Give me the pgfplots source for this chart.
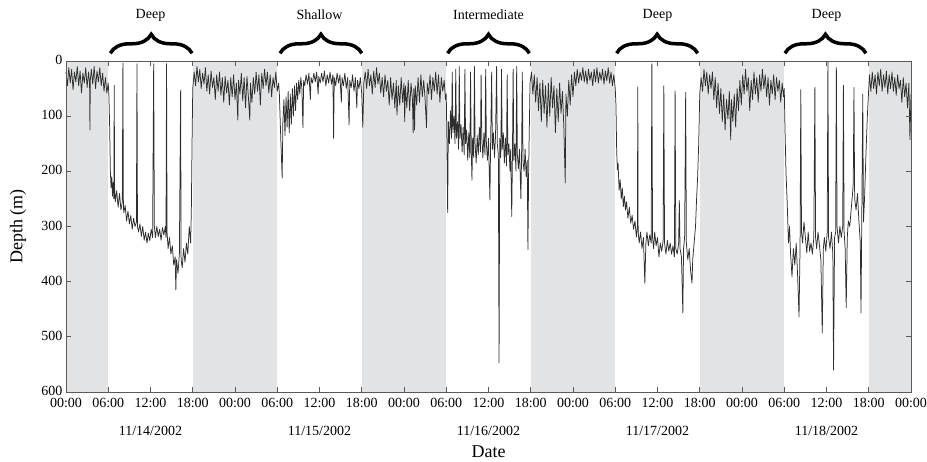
\documentclass[border=0pt]{standalone}
\usepackage{fontspec}
\setmainfont{Liberation Serif}
\usepackage{pgfplots}
\pgfplotsset{compat=1.18}
\usetikzlibrary{decorations.pathreplacing}
\definecolor{nightgray}{RGB}{226,227,229}
\definecolor{axgray}{RGB}{90,90,90}
\begin{document}
\begin{tikzpicture}
\useasboundingbox (-66pt,-70pt) rectangle (861pt,392pt);
\begin{axis}[
  scale only axis, width=845pt, height=331pt,
  xmin=0, xmax=120, ymin=0, ymax=600, y dir=reverse,
  clip=false, axis on top,
  xtick={0,6,...,120},
  xticklabels={00:00,06:00,{12:00\\[11pt]11/14/2002},18:00,
               00:00,06:00,{12:00\\[11pt]11/15/2002},18:00,
               00:00,06:00,{12:00\\[11pt]11/16/2002},18:00,
               00:00,06:00,{12:00\\[11pt]11/17/2002},18:00,
               00:00,06:00,{12:00\\[11pt]11/18/2002},18:00,00:00},
  ytick={0,100,...,600},
  /pgf/number format/assume math mode=true,
  ticklabel style={font=\fontsize{14}{17}\selectfont},
  xticklabel style={align=center, yshift=-3pt},
  yticklabel style={yshift=1pt},
  major tick length=5pt,
  axis line style={axgray, line width=0.8pt},
  tick style={axgray, line width=0.7pt},
  xlabel={Date}, ylabel={Depth (m)},
  label style={font=\fontsize{18}{21}\selectfont},
  xlabel style={at={(axis description cs:0.5,-0.181)}, anchor=center},
  ylabel style={at={(axis description cs:-0.0568,0.5)}, anchor=center},
]
\fill[nightgray] (axis cs:0,0) rectangle (axis cs:6,600);
\fill[nightgray] (axis cs:18,0) rectangle (axis cs:30,600);
\fill[nightgray] (axis cs:42,0) rectangle (axis cs:54,600);
\fill[nightgray] (axis cs:66,0) rectangle (axis cs:78,600);
\fill[nightgray] (axis cs:90,0) rectangle (axis cs:102,600);
\fill[nightgray] (axis cs:114,0) rectangle (axis cs:120,600);

\addplot[black!82, line width=0.75pt, line join=round] coordinates {
(0,20)(0.2,45)(0.4,12)(0.6,40)(0.8,15)(1.0,52)(1.2,20)(1.4,38)(1.6,10)(1.8,45)(2.0,18)(2.2,58)(2.4,22)(2.6,40)(2.8,12)(3.0,48)(3.2,20)(3.35,40)(3.4,125)(3.45,35)(3.6,15)(3.8,42)(4.0,10)(4.2,50)(4.4,18)(4.6,38)(4.8,12)(5.0,45)(5.2,22)(5.4,55)(5.6,30)(5.8,58)(6.0,40)(6.1,65)
(6.2,120)(6.3,200)(6.4,230)(6.5,210)(6.6,245)(6.7,220)(6.8,250)(6.85,44)(6.9,230)(7.0,255)(7.2,235)(7.4,265)(7.6,240)(7.8,270)(8.0,255)(8.08,4)(8.15,260)(8.2,275)(8.4,262)(8.6,290)(8.8,272)(9.0,295)(9.2,280)(9.4,305)(9.6,285)(9.8,300)(10.0,292)(10.08,5)(10.15,300)(10.3,310)(10.5,295)(10.7,318)(10.9,300)(11.1,325)(11.3,310)(11.5,330)(11.7,312)(11.9,326)(12.1,305)(12.3,320)(12.45,5)(12.55,300)(12.7,320)(12.9,300)(13.1,318)(13.3,305)(13.5,325)(13.7,302)(13.9,315)(14.1,300)(14.2,320)(14.28,5)(14.35,310)(14.5,340)(14.7,320)(14.9,350)(15.1,335)(15.3,370)(15.5,355)(15.6,415)(15.7,360)(15.9,385)(16.1,350)(16.28,53)(16.35,360)(16.5,375)(16.7,340)(16.9,365)(17.1,330)(17.3,350)(17.5,300)(17.7,330)(17.8,270)(17.9,150)(18.0,50)
(18.2,20)(18.4,45)(18.6,10)(18.8,38)(19.0,15)(19.2,50)(19.4,22)(19.6,42)(19.8,12)(20.0,55)(20.2,25)(20.4,60)(20.6,18)(20.8,48)(21.0,30)(21.2,70)(21.4,25)(21.6,55)(21.8,20)(22.0,62)(22.2,30)(22.4,75)(22.6,28)(22.8,58)(23.0,35)(23.2,80)(23.4,30)(23.6,65)(23.8,25)(24.0,70)(24.2,40)(24.4,107)(24.5,35)(24.7,60)(24.9,22)(25.1,72)(25.3,30)(25.5,85)(25.7,28)(25.9,65)(26.1,107)(26.2,40)(26.4,75)(26.6,30)(26.8,60)(27.0,20)(27.2,55)(27.4,25)(27.6,80)(27.8,22)(28.0,50)(28.2,15)(28.4,45)(28.6,20)(28.8,58)(29.0,25)(29.2,65)(29.4,30)(29.6,48)(29.8,20)(30.0,55)(30.2,40)
(30.3,60)(30.5,140)(30.7,212)(30.8,110)(30.95,70)(31.1,135)(31.25,65)(31.4,120)(31.55,55)(31.7,130)(31.85,60)(32.0,115)(32.15,50)(32.3,100)(32.45,45)(32.6,90)(32.75,40)(32.9,70)(33.05,35)(33.2,60)(33.35,30)(33.5,50)(33.65,121)(33.75,35)(33.9,45)(34.1,25)(34.3,42)(34.5,22)(34.7,70)(34.8,30)(35.0,40)(35.2,22)(35.4,38)(35.6,20)(35.8,60)(35.9,28)(36.1,40)(36.3,22)(36.5,38)(36.7,18)(36.9,45)(37.1,25)(37.3,40)(37.5,20)(37.7,42)(37.9,25)(38.0,140)(38.1,30)(38.3,45)(38.5,22)(38.7,40)(38.9,25)(39.1,75)(39.2,30)(39.4,45)(39.6,22)(39.8,50)(40.0,30)(40.2,116)(40.3,35)(40.5,48)(40.7,25)(40.9,55)(41.1,30)(41.3,85)(41.4,35)(41.6,50)(41.8,30)(42.0,60)(42.15,120)(42.3,40)
(42.5,20)(42.7,50)(42.9,15)(43.1,45)(43.3,25)(43.5,60)(43.7,18)(43.9,48)(44.1,12)(44.3,42)(44.5,22)(44.7,58)(44.9,30)(45.1,65)(45.3,25)(45.5,55)(45.7,35)(45.9,80)(46.1,30)(46.3,70)(46.5,40)(46.7,85)(46.9,35)(47.0,98)(47.2,45)(47.4,80)(47.6,30)(47.8,75)(48.0,40)(48.1,110)(48.2,45)(48.4,85)(48.6,35)(48.8,90)(49.0,40)(49.2,70)(49.3,130)(49.4,50)(49.5,125)(49.6,45)(49.8,80)(50.0,30)(50.2,75)(50.4,25)(50.6,65)(50.8,35)(51.0,70)(51.2,121)(51.3,40)(51.5,60)(51.7,25)(51.9,70)(52.1,30)(52.3,55)(52.5,20)(52.7,60)(52.9,25)(53.1,75)(53.3,30)(53.5,55)(53.7,35)(53.9,70)
(54.0,60)(54.1,150)(54.2,275)(54.3,110)(54.45,150)(54.6,90)(54.75,140)(54.85,20)(54.95,130)(55.1,100)(55.25,150)(55.35,15)(55.45,140)(55.6,110)(55.75,160)(55.85,10)(55.95,140)(56.1,115)(56.25,165)(56.4,120)(56.55,170)(56.65,15)(56.75,150)(56.9,125)(57.05,180)(57.2,130)(57.35,175)(57.45,20)(57.55,160)(57.65,216)(57.75,140)(57.9,175)(58.0,10)(58.1,150)(58.25,185)(58.4,135)(58.55,170)(58.7,120)(58.85,165)(58.95,25)(59.05,140)(59.2,175)(59.35,130)(59.5,170)(59.6,15)(59.7,150)(59.85,180)(60.0,140)(60.2,252)(60.3,150)(60.45,20)(60.55,160)(60.7,130)(60.85,175)(61.0,135)(61.15,10)(61.25,150)(61.4,170)(61.5,547)(61.6,140)(61.75,175)(61.85,15)(61.95,160)(62.1,130)(62.25,185)(62.4,140)(62.55,190)(62.65,25)(62.75,170)(62.9,150)(63.05,200)(63.15,160)(63.3,282)(63.4,170)(63.5,15)(63.6,180)(63.75,150)(63.9,200)(64.0,10)(64.1,170)(64.25,195)(64.4,160)(64.6,250)(64.7,170)(64.8,20)(64.9,180)(65.05,200)(65.2,160)(65.35,210)(65.5,180)(65.6,342)(65.7,200)(65.8,120)(65.9,40)
(66.1,20)(66.3,60)(66.5,25)(66.7,75)(66.9,30)(67.1,90)(67.3,40)(67.5,110)(67.7,35)(67.9,95)(68.1,45)(68.3,120)(68.5,40)(68.7,100)(68.9,30)(69.1,85)(69.3,45)(69.5,130)(69.7,50)(69.9,110)(70.1,40)(70.3,95)(70.5,55)(70.7,120)(70.9,221)(71.0,60)(71.2,100)(71.4,35)(71.6,80)(71.8,25)(72.0,65)(72.2,20)(72.4,45)(72.6,15)(72.8,40)(73.0,20)(73.2,35)(73.4,12)(73.6,38)(73.8,18)(74.0,42)(74.2,15)(74.4,35)(74.6,20)(74.8,45)(75.0,15)(75.2,38)(75.4,12)(75.6,40)(75.8,20)(76.0,35)(76.2,15)(76.4,42)(76.6,18)(76.8,36)(77.0,12)(77.2,40)(77.4,20)(77.6,45)(77.8,25)(78.0,50)
(78.1,80)(78.2,161)(78.3,197)(78.4,185)(78.55,234)(78.7,215)(78.85,250)(79.0,230)(79.15,264)(79.3,245)(79.45,270)(79.6,255)(79.8,285)(80.0,265)(80.2,294)(80.4,280)(80.6,305)(80.8,290)(81.0,319)(81.15,300)(81.2,47)(81.25,310)(81.4,330)(81.6,310)(81.8,340)(82.0,320)(82.2,403)(82.35,330)(82.5,310)(82.7,335)(82.9,315)(83.1,330)(83.2,5)(83.3,320)(83.45,340)(83.6,310)(83.8,335)(84.0,320)(84.2,355)(84.4,330)(84.6,345)(84.8,325)(84.9,45)(85.0,330)(85.2,350)(85.4,325)(85.6,345)(85.8,330)(86.0,350)(86.2,335)(86.4,355)(86.5,54)(86.6,340)(86.8,350)(87.0,330)(87.1,253)(87.2,340)(87.4,355)(87.6,457)(87.7,340)(87.85,320)(88.0,57)(88.1,330)(88.3,360)(88.5,340)(88.7,380)(88.9,403)(89.0,360)(89.2,330)(89.4,300)(89.55,250)(89.7,210)(89.85,150)(90.0,60)
(90.2,30)(90.4,55)(90.6,15)(90.8,45)(91.0,20)(91.2,60)(91.4,25)(91.6,50)(91.8,20)(92.0,70)(92.2,30)(92.4,85)(92.6,40)(92.8,95)(93.0,50)(93.2,110)(93.4,60)(93.6,125)(93.8,70)(94.0,105)(94.2,55)(94.4,143)(94.5,70)(94.7,110)(94.9,60)(95.1,120)(95.3,50)(95.5,90)(95.7,35)(95.9,80)(96.1,25)(96.3,60)(96.5,15)(96.7,55)(96.9,30)(97.1,90)(97.3,35)(97.5,70)(97.7,20)(97.9,60)(98.1,30)(98.3,75)(98.5,25)(98.7,55)(98.9,15)(99.1,50)(99.3,25)(99.5,65)(99.7,30)(99.9,80)(100.1,35)(100.3,60)(100.5,25)(100.7,70)(100.9,30)(101.1,55)(101.3,35)(101.5,75)(101.7,40)(101.9,65)
(102.0,50)(102.1,120)(102.25,203)(102.4,250)(102.6,330)(102.75,300)(102.9,350)(103.1,391)(103.3,340)(103.5,370)(103.7,330)(103.9,390)(104.1,464)(104.25,330)(104.35,52)(104.45,310)(104.6,330)(104.8,292)(105.0,320)(105.2,348)(105.4,310)(105.6,345)(105.8,330)(106.0,350)(106.2,320)(106.35,48)(106.45,320)(106.6,340)(106.8,310)(107.0,335)(107.2,360)(107.4,493)(107.55,340)(107.7,320)(107.9,345)(108.1,310)(108.2,2)(108.3,320)(108.5,340)(108.7,310)(108.9,350)(109.0,560)(109.15,320)(109.3,310)(109.4,12)(109.5,300)(109.7,330)(109.9,300)(110.1,320)(110.3,300)(110.4,44)(110.5,310)(110.65,340)(110.8,447)(110.95,320)(111.1,290)(111.3,300)(111.5,270)(111.7,240)(111.8,222)(111.9,48)(112.0,250)(112.2,270)(112.4,240)(112.6,290)(112.8,330)(112.9,457)(113.0,300)(113.15,60)(113.25,292)(113.4,250)(113.6,170)(113.8,100)(114.0,50)
(114.1,25)(114.3,55)(114.5,20)(114.7,50)(114.9,25)(115.1,60)(115.3,20)(115.5,45)(115.7,15)(115.9,55)(116.1,25)(116.3,48)(116.5,18)(116.7,60)(116.9,25)(117.1,50)(117.3,20)(117.5,55)(117.7,30)(117.9,62)(118.1,25)(118.3,50)(118.5,35)(118.7,75)(118.9,30)(119.1,65)(119.3,40)(119.5,85)(119.7,40)(119.85,143)(120,60)
};

\begin{scope}[line width=3.5pt, decoration={brace, amplitude=19pt}]
\draw[decorate] (axis cs:6.3,-14) -- (axis cs:17.9,-14);
\draw[decorate] (axis cs:30.4,-14) -- (axis cs:42.0,-14);
\draw[decorate] (axis cs:54.2,-14) -- (axis cs:65.8,-14);
\draw[decorate] (axis cs:78.2,-14) -- (axis cs:89.7,-14);
\draw[decorate] (axis cs:102.1,-14) -- (axis cs:113.6,-14);
\end{scope}
\begin{scope}[font=\fontsize{14}{17}\selectfont]
\node at (axis cs:12,-83) {Deep};
\node at (axis cs:36,-83) {Shallow};
\node at (axis cs:60,-83) {Intermediate};
\node at (axis cs:84,-83) {Deep};
\node at (axis cs:108,-83) {Deep};
\end{scope}
\end{axis}
\end{tikzpicture}
\end{document}
